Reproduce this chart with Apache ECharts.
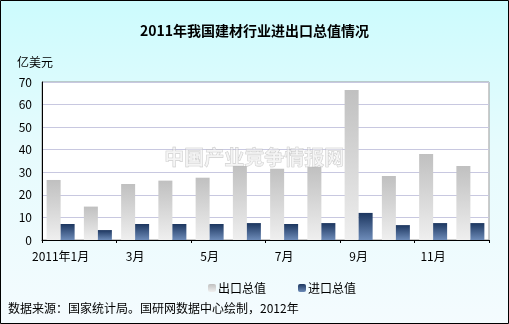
<!DOCTYPE html>
<html><head><meta charset="utf-8">
<script src="https://cdn.jsdelivr.net/npm/echarts@6/dist/echarts.min.js"></script>
<style>html,body{margin:0;padding:0;}#c{width:509px;height:324px;background:linear-gradient(to bottom,#ccfbfd 0%,#e6fbfd 45%,#f4fbfe 100%);}</style>
</head><body><div id="c"></div>
<script>
const categories = ["2011年1月","2月","3月","4月","5月","6月","7月","8月","9月","10月","11月","12月"];
const exportValues = [26.6, 14.8, 24.8, 26.3, 27.6, 32.8, 31.6, 32.5, 66.5, 28.4, 38.1, 32.8];
const importValues = [7.1, 4.4, 7.1, 7.1, 7.1, 7.5, 7.1, 7.5, 12.0, 6.6, 7.5, 7.5];
const yTicks = [0, 10, 20, 30, 40, 50, 60, 70];
const font = '"Noto Sans CJK SC", "DejaVu Sans", sans-serif';
const chart = echarts.init(document.getElementById('c'), null, {renderer:'canvas'});
chart.setOption({
  backgroundColor: 'transparent',
  animation: false,
  title: {
    text: '2011年我国建材行业进出口总值情况',
    left: 'center', top: 19,
    textStyle: {fontFamily: font, fontSize: 14, fontWeight: 'bold', color: '#000'}
  },
  legend: {
    top: 277, left: 203,
    itemWidth: 8, itemHeight: 8, itemGap: 32,
    textStyle: {fontFamily: font, fontSize: 12, color: '#000', padding:[0,0,0,-3]},
    data: ['出口总值', '进口总值']
  },
  grid: {left: 42, right: 20, top: 82, bottom: 84, show: true, backgroundColor: '#fff', borderColor: '#999', borderWidth: 1},
  xAxis: {
    type: 'category', data: categories,
    axisLine: {lineStyle: {color: '#000'}},
    axisTick: {show: true, length: 3, lineStyle: {color: '#000'}},
    axisLabel: {interval: 1, fontFamily: font, fontSize: 12, color: '#000', margin: 10}
  },
  yAxis: {
    type: 'value', min: yTicks[0], max: yTicks[yTicks.length-1], interval: 10,
    name: '亿美元', nameLocation: 'end', nameGap: 14,
    nameTextStyle: {fontFamily: font, fontSize: 12, color: '#000', align: 'left', padding: [0,0,0,-25]},
    axisLine: {show: true, lineStyle: {color: '#000'}},
    axisTick: {show: false},
    splitLine: {lineStyle: {color: '#c8c8e0'}},
    axisLabel: {fontFamily: font, fontSize: 12, color: '#000', margin: 10}
  },
  series: [
    {
      name: '出口总值', type: 'bar', data: exportValues, barWidth: 14, barGap: '0%',
      itemStyle: {color: {type:'linear', x:0, y:0, x2:0, y2:1, colorStops:[{offset:0,color:'#c0c0c0'},{offset:1,color:'#efefef'}]}}
    },
    {
      name: '进口总值', type: 'bar', data: importValues, barWidth: 14,
      itemStyle: {color: {type:'linear', x:0, y:0, x2:0, y2:1, colorStops:[{offset:0,color:'#1c365f'},{offset:1,color:'#6d8bb8'}]}}
    }
  ],
  graphic: [
    {type:'text', left: 164, top: 147, z: 5, silent: true,
     style:{text:'中国产业竞争情报网', fill:'rgba(235,235,235,0.5)', stroke:'rgba(175,175,175,0.7)', lineWidth:0.6, font:'bold 20px '+font}},
    {type:'text', left: 8, top: 302,
     style:{text:'数据来源：国家统计局。国研网数据中心绘制，2012年', fill:'#000', font:'12px '+font}},
    {type:'rect', shape:{x:0.5, y:0.5, width:508, height:323}, style:{fill:'none', stroke:'#000', lineWidth:1}, z: 10, silent: true}
  ]
});
</script></body></html>
